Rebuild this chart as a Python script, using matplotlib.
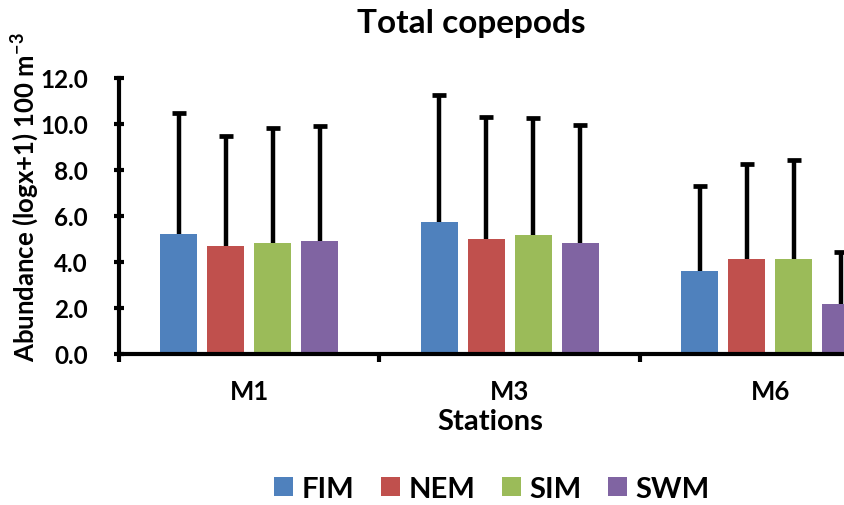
import matplotlib
matplotlib.use("Agg")
import matplotlib.pyplot as plt
import numpy as np

plt.rcParams["font.family"] = ["Lato", "DejaVu Sans"]
plt.rcParams["font.weight"] = "bold"
plt.rcParams["mathtext.default"] = "regular"

stations = ["M1", "M3", "M6"]
seasons = ["FIM", "NEM", "SIM", "SWM"]
colors = ["#4F81BD", "#C0504D", "#9BBB59", "#8064A2"]

# mean abundance and standard deviation per season, one value per station
fim_mean = [5.22, 5.72, 3.61]
fim_sd = [5.26, 5.56, 3.70]
nem_mean = [4.67, 5.01, 4.11]
nem_sd = [4.82, 5.31, 4.15]
sim_mean = [4.83, 5.18, 4.11]
sim_sd = [5.00, 5.09, 4.31]
swm_mean = [4.89, 4.83, 2.15]
swm_sd = [5.04, 5.11, 2.26]

means = [fim_mean, nem_mean, sim_mean, swm_mean]
sds = [fim_sd, nem_sd, sim_sd, swm_sd]

W, H = 845, 506
fig = plt.figure(figsize=(W / 100, H / 100), dpi=100)
ax = fig.add_axes([119 / W, 1 - 354.7 / H, 781.5 / W, 275.7 / H])

x = np.arange(len(stations))
pitch = 0.18
width = 0.142
for i, (name, m, s, c) in enumerate(zip(seasons, means, sds, colors)):
    pos = x + (i - 1.5) * pitch
    m = np.asarray(m)
    top = m + np.asarray(s)
    ax.bar(pos, m, width, color=c, label=name, zorder=2)
    # upper half of the error bar only, with a flat cap
    ax.vlines(pos, m, top, color="black", linewidth=3.2, zorder=3)
    ax.plot(pos, top, linestyle="none", marker="_", markersize=9.5,
            markeredgewidth=3.4, color="black", zorder=3)

ax.set_xlim(-0.5, 2.5)
ax.set_ylim(0, 12)
yt = np.arange(0, 12.1, 2)
ax.set_yticks(yt)
ax.set_yticklabels([f"{v:.1f}" for v in yt])
ax.set_xticks([-0.5, 0.5, 1.5, 2.5])
ax.set_xticklabels([])
ax.set_xticks(x, minor=True)
ax.set_xticklabels(stations, minor=True)
ax.tick_params(axis="x", which="major", direction="out", length=6, width=3)
ax.tick_params(axis="x", which="minor", length=0, pad=18, labelsize=18.5)
ax.tick_params(axis="y", direction="inout", length=7, width=3, labelsize=17.5, pad=19)

for side in ["top", "right"]:
    ax.spines[side].set_visible(False)
for side in ["left", "bottom"]:
    ax.spines[side].set_linewidth(3)

fig.text(471 / W, 1 - 24 / H, "Total copepods", ha="center", va="center",
         fontsize=24, fontweight="bold")
fig.text(490 / W, 1 - 422 / H, "Stations", ha="center", va="center",
         fontsize=21, fontweight="bold")
fig.text(25 / W, 1 - 197 / H, "Abundance (logx+1) 100 m$^{-3}$", rotation=90,
         ha="center", va="center", fontsize=18.5, fontweight="bold")

fig.legend(loc="center", bbox_to_anchor=(492 / W, 1 - 490 / H), ncol=4,
           frameon=False, handlelength=0.65, handleheight=0.65, handletextpad=0.3,
           columnspacing=0.9, fontsize=21)

fig.savefig("out.png", dpi=100)
